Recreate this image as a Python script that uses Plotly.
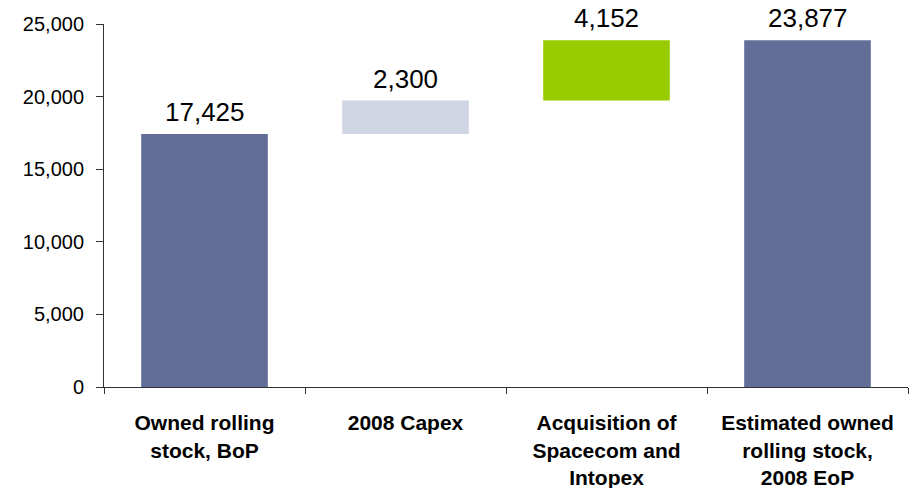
import plotly.graph_objects as go

# Rolling stock bridge: opening stock, additions, closing stock
categories = [
    "Owned rolling<br>stock, BoP",
    "2008 Capex",
    "Acquisition of<br>Spacecom and<br>Intopex",
    "Estimated owned<br>rolling stock,<br>2008 EoP",
]
values = [17425, 2300, 4152, 23877]
kinds = ["total", "delta", "delta", "total"]
colors = ["#636E98", "#D0D5E3", "#99CC00", "#636E98"]
y_ticks = [0, 5000, 10000, 15000, 20000, 25000]

# floating bars: deltas start where the running total left off
bases, running = [], 0
for v, k in zip(values, kinds):
    if k == "total":
        bases.append(0)
        running = v
    else:
        bases.append(running)
        running += v
tops = [b + v for b, v in zip(bases, values)]

font = "Liberation Sans, Arial, sans-serif"

fig = go.Figure(
    go.Bar(
        x=categories,
        y=values,
        base=bases,
        width=0.63,
        marker=dict(color=colors, line=dict(width=0)),
        hoverinfo="skip",
    )
)

for c, v, t in zip(categories, values, tops):
    fig.add_annotation(
        x=c, y=t, text=f"{v:,}", showarrow=False,
        yanchor="bottom", yshift=5,
        font=dict(family=font, size=26, color="#000000"),
    )

fig.update_layout(
    width=921, height=488,
    margin=dict(l=104, r=13, t=24, b=101),
    paper_bgcolor="white", plot_bgcolor="white",
    showlegend=False,
    bargap=0.37,
    font=dict(family=font, color="#000000"),
)
fig.update_xaxes(
    tickmode="array", tickvals=categories,
    ticktext=[f"<b>{c}</b>" for c in categories],
    tickson="boundaries", ticks="outside", ticklen=6, tickcolor="#333333",
    showline=True, linecolor="#333333", linewidth=1,
    tickfont=dict(family=font, size=21, color="#000000"),
    ticklabelstandoff=17,
    automargin=False,
    showgrid=False,
)
fig.update_yaxes(
    range=[0, 25000], tickvals=y_ticks, tickformat=",d",
    ticks="outside", ticklen=7, tickcolor="#333333",
    showline=True, linecolor="#333333", linewidth=1,
    tickfont=dict(family=font, size=20, color="#000000"),
    ticklabelstandoff=8,
    automargin=False,
    showgrid=False, zeroline=False,
)

fig.write_html("out.html")
